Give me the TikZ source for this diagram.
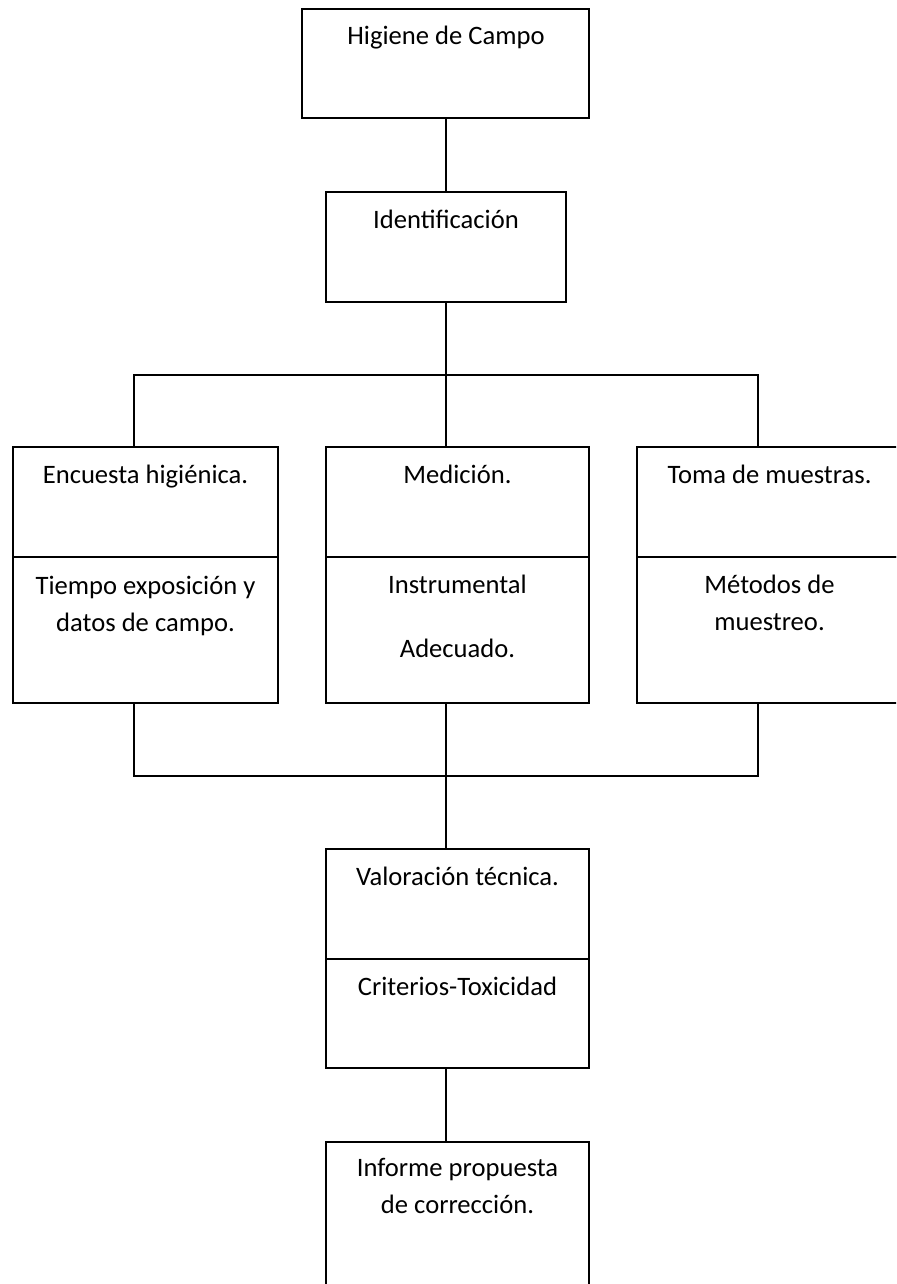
\documentclass[tikz,border=0pt]{standalone}
\usepackage{fontspec}
\setmainfont{Carlito}
\usetikzlibrary{calc}
\tikzset{
	box/.style 2 args={draw, line width=1pt, inner sep=0pt, outer sep=0pt, minimum width=#1, minimum height=#2},
	lbl/.style={anchor=base, align=center, inner sep=0pt, font=\fontsize{13.3}{18.5}\selectfont},
	wire/.style={line width=1pt}
}

\begin{document}
\begin{tikzpicture}[x=0.5pt, y=-0.5pt]
		%%%%% START %%%%%
		
		\useasboundingbox (0, 0) rectangle (896, 1284);
		\clip (0, 0) rectangle (896, 1284);
		
		% cajas
		\node[box={143.5pt}{54.5pt}] (camp) at (445.5, 63.5) {};
		\node[box={120pt}{55pt}] (ident) at (446, 247) {};
		
		\node[box={132.5pt}{55pt}] (enc) at (145.5, 502) {};
		\node[box={132.5pt}{73pt}] (encb) at (145.5, 630) {};
		\node[box={131.5pt}{55pt}] (med) at (457.5, 502) {};
		\node[box={131.5pt}{73pt}] (medb) at (457.5, 630) {};
		\node[box={132.5pt}{55pt}] (tom) at (769.5, 502) {};
		\node[box={132.5pt}{73pt}] (tomb) at (769.5, 630) {};
		
		\node[box={131.5pt}{55pt}] (val) at (457.5, 904) {};
		\node[box={131.5pt}{54.5pt}] (valb) at (457.5, 1013.5) {};
		\node[box={131.5pt}{75pt}] (inf) at (457.5, 1217) {};
		
		% textos (base = ultima linea)
		\node[lbl] (tcamp) at ($(camp.north)+(0.5, 36)$) {Higiene de Campo};
		\node[lbl] (tident) at ($(ident.north)+(0, 36)$) {Identificación};
		\node[lbl] (tenc) at ($(enc.north)+(0, 36)$) {Encuesta higiénica.};
		\node[lbl] (tencb) at ($(encb.north)+(0, 74)$) {Tiempo exposición y\\datos de campo.};
		\node[lbl] (tmed) at ($(med.north)+(0, 36)$) {Medición.};
		\node[lbl] (tmedb) at ($(medb.north)+(0, 100)$) {Instrumental\\[13.5pt]Adecuado.};
		\node[lbl] (ttom) at ($(tom.north)+(0, 36)$) {Toma de muestras.};
		\node[lbl] (ttomb) at ($(tomb.north)+(0, 73)$) {Métodos de\\muestreo.};
		\node[lbl] (tval) at ($(val.north)+(0, 36)$) {Valoración técnica.};
		\node[lbl] (tvalb) at ($(valb.north)+(0, 36)$) {Criterios-Toxicidad};
		\node[lbl] (tinf) at ($(inf.north)+(0, 71)$) {Informe propuesta\\de corrección.};
		
		% lineas
		\coordinate (split) at (446, 375);
		\coordinate (splitL) at (133.5, 375);
		\coordinate (splitR) at (757.5, 375);
		\coordinate (join) at (446, 776);
		\coordinate (joinL) at (133.5, 776);
		\coordinate (joinR) at (757.5, 776);
		
		\draw[wire] (ident.north |- camp.south) -- (ident.north);
		\draw[wire] (ident.south) -- (split);
		\draw[wire] (splitL |- enc.north) -- (splitL) -- (splitR) -- (splitR |- tom.north);
		\draw[wire] (split) -- (split |- med.north);
		
		\draw[wire] (joinL |- encb.south) -- (joinL) -- (joinR) -- (joinR |- tomb.south);
		\draw[wire] (join |- medb.south) -- (join) -- (join |- val.north);
		\draw[wire] (join |- valb.south) -- (join |- inf.north);
		
		%%%%% END %%%%%
	\end{tikzpicture}
\end{document}
